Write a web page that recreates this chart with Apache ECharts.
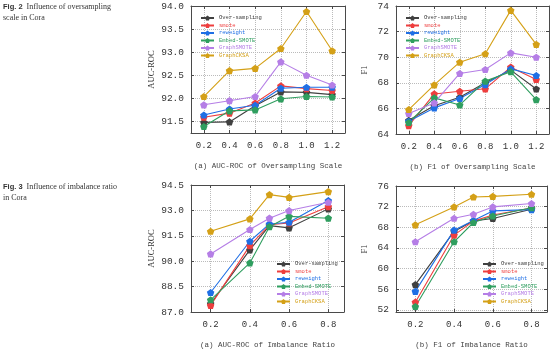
<!DOCTYPE html>
<html>
<head>
<meta charset="utf-8">
<script src="https://cdn.jsdelivr.net/npm/echarts@6/dist/echarts.min.js"></script>
<style>
  html, body { margin: 0; padding: 0; background: #fff; }
  #chart { width: 554px; height: 350px; }
</style>
</head>
<body>
<div id="chart"></div>
<script>
const methods = ['Over-sampling', 'smote', 'reweight', 'Embed-SMOTE', 'GraphSMOTE', 'GraphCKSA']
const colors = ['#404040', '#ee3e3e', '#1f6fe5', '#2f9e5f', '#b57ee6', '#d4a017']

// Fig. 2 - oversampling scale (rows follow methods)
const scaleX = [0.2, 0.4, 0.6, 0.8, 1.0, 1.2]
const aucScale = [
  [91.48, 91.49, 91.84, 92.14, 92.13, 92.08],
  [91.59, 91.68, 91.90, 92.27, 92.21, 92.17],
  [91.64, 91.77, 91.85, 92.22, 92.24, 92.24],
  [91.39, 91.73, 91.75, 91.99, 92.04, 92.03],
  [91.86, 91.95, 92.04, 92.79, 92.50, 92.29],
  [92.04, 92.60, 92.65, 93.08, 93.88, 93.03]
]
const f1Scale = [
  [65.07, 66.20, 66.87, 68.00, 68.99, 67.52],
  [64.65, 67.13, 67.34, 67.53, 69.22, 68.26],
  [65.00, 66.04, 66.77, 67.86, 69.09, 68.57],
  [64.90, 66.82, 66.27, 68.13, 68.86, 66.69],
  [65.60, 66.43, 68.73, 69.04, 70.34, 70.00],
  [65.91, 67.84, 69.61, 70.27, 73.66, 71.00]
]

// Fig. 3 - imbalance ratio
const ratioX = [0.2, 0.4, 0.5, 0.6, 0.8]
const aucRatio = [
  [87.49, 90.67, 92.10, 91.97, 93.09],
  [87.39, 90.92, 92.15, 92.26, 93.22],
  [88.15, 91.18, 92.20, 92.30, 93.58],
  [87.72, 89.90, 92.04, 92.65, 92.54],
  [90.43, 91.87, 92.54, 92.99, 93.48],
  [91.77, 92.50, 93.93, 93.77, 94.11]
]
const f1Ratio = [
  [56.90, 67.20, 69.25, 69.70, 71.50],
  [53.50, 66.48, 69.20, 70.40, 71.75],
  [55.60, 67.45, 69.30, 71.18, 71.43],
  [52.66, 65.20, 68.93, 70.20, 71.80],
  [65.20, 69.76, 70.53, 71.95, 72.60],
  [68.48, 71.95, 73.88, 74.00, 74.40]
]

const panels = [
  { xs: scaleX, data: aucScale, xr: [0.1, 1.3, 0.2], yr: [91.25, 94.0, 0.5], yDec: 1,
    yName: 'AUC-ROC', xName: '(a) AUC-ROC of Oversampling Scale',
    grid: { left: 191, top: 6, width: 154, height: 127 }, legend: { left: 200, top: 15 } },
  { xs: scaleX, data: f1Scale, xr: [0.1, 1.3, 0.2], yr: [64, 74, 2], yDec: 0,
    yName: 'F1', xName: '(b) F1 of Oversampling Scale',
    grid: { left: 396, top: 6, width: 153, height: 128 }, legend: { left: 405, top: 15 } },
  { xs: ratioX, data: aucRatio, xr: [0.1, 0.88, 0.2], yr: [87.0, 94.5, 1.5], yDec: 1,
    yName: 'AUC-ROC', xName: '(a) AUC-ROC of Imbalance Ratio',
    grid: { left: 191, top: 185, width: 153, height: 128 }, legend: { left: 276, top: 261 } },
  { xs: ratioX, data: f1Ratio, xr: [0.1, 0.88, 0.2], yr: [51.6, 76, 4], yDec: 0,
    yName: 'F1', xName: '(b) F1 of Imbalance Ratio',
    grid: { left: 396, top: 186, width: 151, height: 127 }, legend: { left: 482, top: 261 } }
]

const pentagon = 'path://M0,-10L9.51,-3.09L5.88,8.09L-5.88,8.09L-9.51,-3.09Z'
const frame = '#4a4a4a'
const mono = 'Liberation Mono'

const onStep = (v, step) => Math.abs(v / step - Math.round(v / step)) < 1e-6

const grids = [], xAxes = [], yAxes = [], series = [], legends = []

panels.forEach((p, i) => {
  grids.push(p.grid)

  const base = (r) => ({
    gridIndex: i, type: 'value', min: r[0], max: r[1],
    minInterval: r[2], maxInterval: r[2],
    axisLine: { show: true, onZero: false, lineStyle: { color: frame, width: 1 } },
    axisTick: { show: true, inside: true, length: 3, lineStyle: { color: frame } }
  })

  xAxes.push(Object.assign(base(p.xr), {
    position: 'bottom',
    axisLabel: { fontFamily: mono, fontSize: 9, color: '#333', margin: 8,
      formatter: v => onStep(v, p.xr[2]) ? v.toFixed(1) : '' },
    splitLine: { show: true, lineStyle: { type: 'dotted', color: '#bbb' } },
    name: p.xName, nameLocation: 'middle', nameGap: 29,
    nameTextStyle: { fontFamily: mono, fontSize: 7.5, color: '#444' }
  }))
  xAxes.push(Object.assign(base(p.xr), {
    position: 'top', axisLabel: { show: false }, splitLine: { show: false }
  }))

  yAxes.push(Object.assign(base(p.yr), {
    position: 'left',
    axisLabel: { fontFamily: mono, fontSize: 9.5, color: '#333', margin: 7,
      formatter: v => onStep(v, p.yr[2]) ? v.toFixed(p.yDec) : '' },
    splitLine: { show: true, lineStyle: { type: 'dotted', color: '#bbb' } },
    name: p.yName, nameLocation: 'middle', nameGap: p.yDec ? 35 : 27,
    nameTextStyle: { fontFamily: 'Liberation Serif', fontSize: 8.5, color: '#333' }
  }))
  yAxes.push(Object.assign(base(p.yr), {
    position: 'right', axisLabel: { show: false }, splitLine: { show: false }
  }))

  methods.forEach((m, j) => {
    series.push({
      name: m, type: 'line',
      xAxisIndex: i * 2, yAxisIndex: i * 2,
      data: p.xs.map((x, k) => [x, p.data[j][k]]),
      symbol: pentagon, symbolSize: 7.5, symbolKeepAspect: true,
      itemStyle: { color: colors[j] },
      lineStyle: { color: colors[j], width: 1.1 },
      animation: false
    })
  })

  legends.push({
    orient: 'vertical', left: p.legend.left, top: p.legend.top, padding: 0,
    itemWidth: 13, itemHeight: 6, itemGap: 1.5,
    textStyle: { fontFamily: mono, fontSize: 5.5, lineHeight: 6 },
    data: methods.map((m, j) => ({ name: m, textStyle: { color: colors[j] } }))
  })
})

const chart = echarts.init(document.getElementById('chart'))
chart.setOption({
  animation: false,
  grid: grids,
  xAxis: xAxes,
  yAxis: yAxes,
  legend: legends,
  series: series,
  graphic: [
    { type: 'text', left: 3, top: 2,
      style: { text: '{b|Fig. 2}  Influence of oversampling\nscale in Cora',
        fontFamily: 'Liberation Serif', fontSize: 8, lineHeight: 10.5, fill: '#333',
        rich: { b: { fontFamily: 'Liberation Sans', fontWeight: 'bold', fontSize: 7.5, lineHeight: 10.5 } } } },
    { type: 'text', left: 3, top: 182,
      style: { text: '{b|Fig. 3}  Influence of imbalance ratio\nin Cora',
        fontFamily: 'Liberation Serif', fontSize: 8, lineHeight: 10.5, fill: '#333',
        rich: { b: { fontFamily: 'Liberation Sans', fontWeight: 'bold', fontSize: 7.5, lineHeight: 10.5 } } } }
  ]
})
</script>
</body>
</html>
